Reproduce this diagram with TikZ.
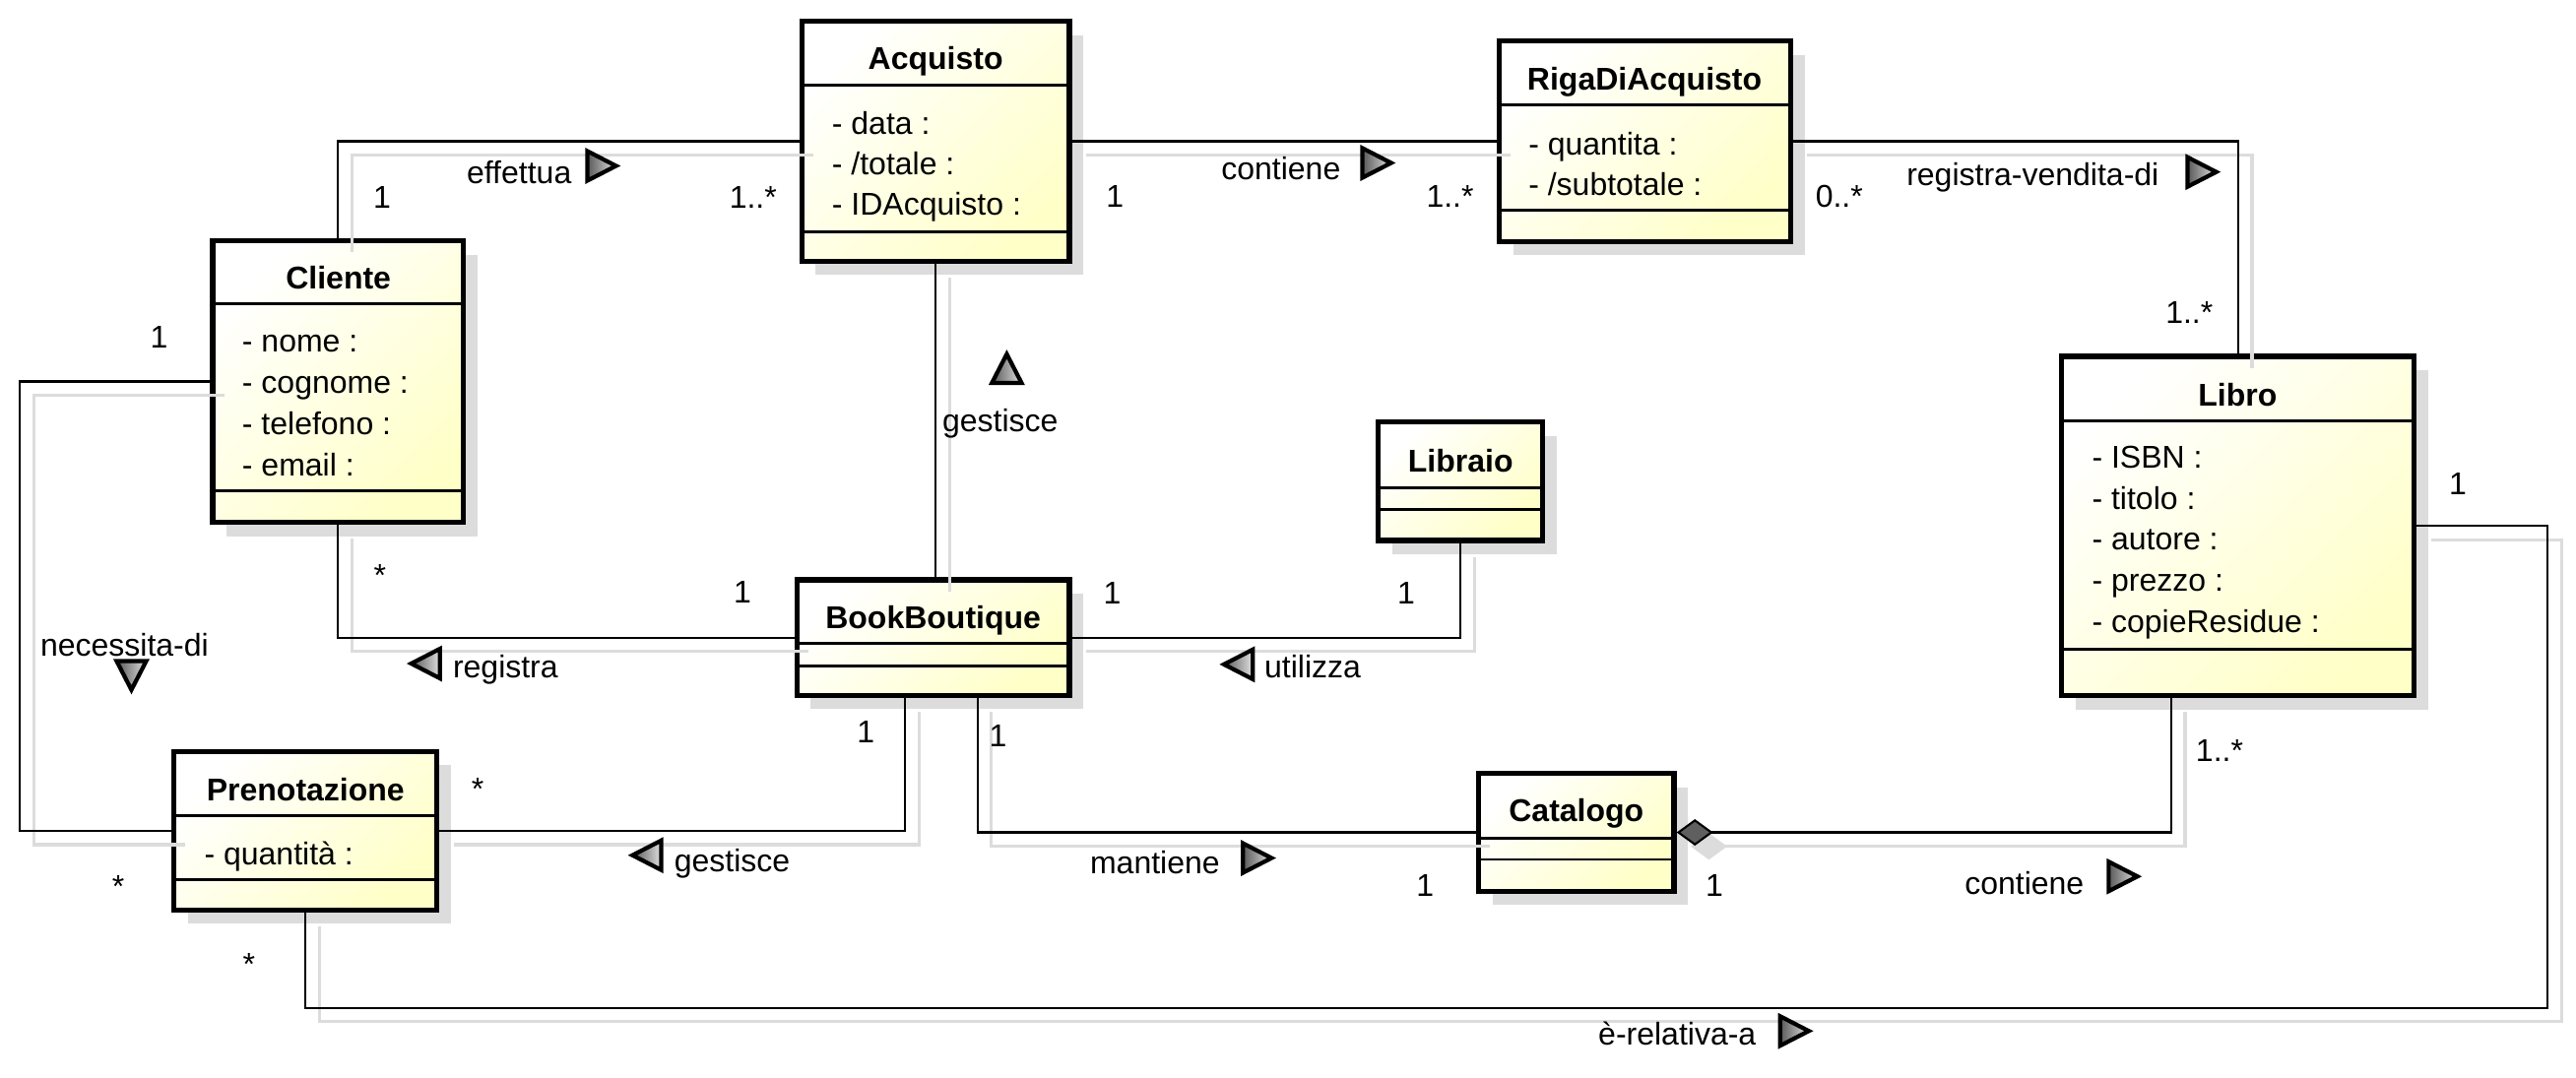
\documentclass[tikz,border=0pt]{standalone}
\usepackage{fontspec}
\setmainfont{Liberation Sans}
\usetikzlibrary{fit,shadows,arrows.meta}

\definecolor{classfill}{RGB}{255,255,200}
\definecolor{shadowgray}{RGB}{220,220,220}
\definecolor{diamondgray}{RGB}{95,95,95}

\tikzset{
  every node/.style={font=\fontsize{9.1}{11}\selectfont, inner sep=0pt, text height=1.5ex, text depth=.25ex},
  classbox/.style={draw, line width=1.5pt, inner sep=0pt, top color=white, bottom color=classfill, shading angle=45,
    general shadow={fill=shadowgray, shadow xshift=0.142cm, shadow yshift=-0.142cm}},
  sepline/.style={line width=0.8pt},
  classname/.style={font=\fontsize{9.1}{11}\selectfont\bfseries},
  attr/.style={anchor=west},
  assoc/.style={line width=0.6pt},
  assocshadow/.style={draw=shadowgray, line width=0.9pt, transform canvas={xshift=0.142cm, yshift=-0.142cm}},
  dirtri/.pic={\draw[line width=1.2pt, left color=black!65, right color=gray!25] (-8.5,-9) -- (9,0) -- (-8.5,9) -- cycle;}
}

\begin{document}
\begin{tikzpicture}[x=0.01668cm, y=-0.01668cm]
  \fill[white] (0,0) rectangle (1568,656);
  \useasboundingbox (0,0) rectangle (1568,656);

  % classes
  \node[classbox, fit={(488,13) (651,159)}] (acquisto) {};
  \node[classbox, fit={(912.5,25) (1090,147)}] (rigadiacquisto) {};
  \node[classbox, fit={(129.5,146.5) (282,318)}] (cliente) {};
  \node[classbox, fit={(1255,217) (1469.5,423.5)}] (libro) {};
  \node[classbox, fit={(839,257) (939,329)}] (libraio) {};
  \node[classbox, fit={(485,353) (651,423.3)}] (bookboutique) {};
  \node[classbox, fit={(106,457.5) (266,554)}] (prenotazione) {};
  \node[classbox, fit={(900,471) (1019,542.6)}] (catalogo) {};

  \foreach \c/\ya/\yb in {acquisto/52/141, rigadiacquisto/64/128, cliente/185/299, libro/256/395.3,
      libraio/297/310, bookboutique/391.5/405.3, prenotazione/496.5/535.5, catalogo/510.6/523.3}
    \draw[sepline] (\c.west |- 0,\ya) -- (\c.east |- 0,\ya)
                   (\c.west |- 0,\yb) -- (\c.east |- 0,\yb);

  \node[classname] (acquisto-name) at (569.5,35.3) {Acquisto};
  \node[classname] (rigadiacquisto-name) at (1001,48) {RigaDiAcquisto};
  \node[classname] (cliente-name) at (206,169) {Cliente};
  \node[classname] (libro-name) at (1362,240) {Libro};
  \node[classname] (libraio-name) at (889,280.5) {Libraio};
  \node[classname] (bookboutique-name) at (568,375.7) {BookBoutique};
  \node[classname] (prenotazione-name) at (186,480.5) {Prenotazione};
  \node[classname] (catalogo-name) at (959.5,493.2) {Catalogo};

  \foreach \t [count=\i] in {- data :, - /totale :, - IDAcquisto :}
    \node[attr] (acquisto-a\i) at (506,50+24.6*\i) {\t};
  \foreach \t [count=\i] in {- quantita :, - /subtotale :}
    \node[attr] (rigadiacquisto-a\i) at (930,63+24.6*\i) {\t};
  \foreach \t [count=\i] in {- nome :, - cognome :, - telefono :, - email :}
    \node[attr] (cliente-a\i) at (147,182.6+25*\i) {\t};
  \foreach \t [count=\i] in {- ISBN :, - titolo :, - autore :, - prezzo :, - copieResidue :}
    \node[attr] (libro-a\i) at (1273,253+25*\i) {\t};
  \node[attr] (prenotazione-a1) at (124,519.7) {- quantità :};

  % associations (shadow first, then line)
  \foreach \sty/\tip in {assocshadow/shadowgray, assoc/diamondgray} {
    \draw[\sty] (cliente.north) |- (acquisto.west);
    \draw[\sty] (acquisto.east) -- (rigadiacquisto.west);
    \draw[\sty] (rigadiacquisto.east) -| (libro.north);
    \draw[\sty] (acquisto.south) -- (acquisto.south |- bookboutique.north);
    \draw[\sty] (cliente.west) -- ++(-116,0) |- (prenotazione.west);
    \draw[\sty] (cliente.south) |- (bookboutique.west);
    \draw[\sty] (bookboutique.east) -| (libraio.south);
    \draw[\sty] ([shift={(-17.2,0)}]bookboutique.south) |- (prenotazione.east);
    \draw[\sty] ([shift={(27,0)}]bookboutique.south) |- (catalogo.west);
    \draw[\sty, arrows={Diamond[length=0.37cm, width=0.27cm, fill=\tip]-}]
      (catalogo.east) -| ([shift={(-40.7,0)}]libro.south);
    \draw[\sty] (prenotazione.south) -- ++(0,58) -| ([shift={(79.5,0)}]libro.east) -- (libro.east);
  }

  % association names
  \node (effettua) at (316,105) {effettua};
  \node (contiene-riga) at (779.7,102.5) {contiene};
  \node (registra-vendita-di) at (1237.3,106) {registra-vendita-di};
  \node (gestisce-acquisto) at (608.8,256) {gestisce};
  \node (necessita-di) at (75.8,392.4) {necessita-di};
  \node (registra) at (307.7,406) {registra};
  \node (utilizza) at (799,406) {utilizza};
  \node (gestisce-prenotazione) at (445.7,523.6) {gestisce};
  \node (mantiene) at (703,525) {mantiene};
  \node (contiene-libro) at (1232.2,537.7) {contiene};
  \node (e-relativa-a) at (1020.9,629.5) {è-relativa-a};

  \foreach \x/\y/\r in {366/101/0, 837.8/99.2/0, 1340/104.7/0, 612.8/224.6/90, 80/411/-90,
      259.3/404/180, 754/404.5/180, 394/520.7/180, 765/522.4/0, 1292/533.6/0, 1092/627.7/0}
    \pic[rotate=\r] at (\x,\y) {dirtri};

  % multiplicities
  \foreach \x/\y/\t [count=\i] in {232.6/120/1, 458.4/120/1..*, 678.6/119/1, 882.6/119/1..*,
      1119.5/119/0..*, 1332.6/190/1..*, 96.8/205/1, 72/539.5/*, 231.2/350/*, 452/360/1,
      677/360.8/1, 855.9/360.8/1, 527/445.4/1, 290.8/480/*, 607.5/447.7/1, 867.4/538.8/1,
      1043.5/538.8/1, 1351/456.6/1..*, 151.6/587/*, 1496/294.4/1}
    \node (mult\i) at (\x,\y) {\t};
\end{tikzpicture}
\end{document}
